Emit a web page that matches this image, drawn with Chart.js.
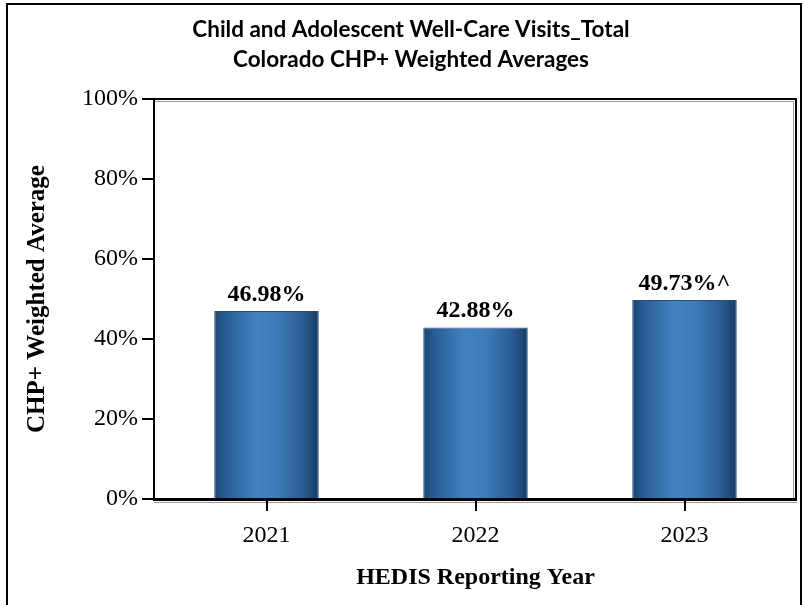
<!DOCTYPE html>
<html>
<head>
<meta charset="utf-8">
<script src="https://cdn.jsdelivr.net/npm/chart.js@4"></script>
<style>
  html, body { margin:0; padding:0; background:#fff; }
  #wrap { width:803px; height:605px; }
</style>
</head>
<body>
<div id="wrap"><canvas id="chart" width="803" height="605"></canvas></div>
<script>
const titleLines = ['Child and Adolescent Well-Care Visits_Total', 'Colorado CHP+ Weighted Averages'];
const years = ['2021', '2022', '2023'];
const rates = [46.98, 42.88, 49.73];
const labelMarks = ['', '', '^'];
const yTicks = [0, 20, 40, 60, 80, 100];

const serif = "'Liberation Serif', 'Times New Roman', serif";

function barGradient(ctx){
  const chart = ctx.chart;
  if (!chart.chartArea) return '#3a75b0';
  const xs = chart.scales.x;
  const cx = xs.getPixelForValue(ctx.dataIndex);
  const w = (xs.width / years.length) * 0.5;
  const g = chart.ctx.createLinearGradient(cx - w/2, 0, cx + w/2, 0);
  g.addColorStop(0, '#1b4470');
  g.addColorStop(0.12, '#2a5e96');
  g.addColorStop(0.4, '#4283c0');
  g.addColorStop(0.6, '#3e7cb8');
  g.addColorStop(0.85, '#2a5c92');
  g.addColorStop(1, '#163b63');
  return g;
}

// title, box round the plot, axis ticks, outer border and value labels
const framePlugin = {
  id: 'frame',
  afterDatasetsDraw(chart){
    const c = chart.ctx;
    const ys = chart.scales.y, xs = chart.scales.x;
    const L = 154, R = 796;
    const T = ys.getPixelForValue(100), B = ys.getPixelForValue(0);
    c.save();
    // title (centred over the box, not the canvas)
    c.fillStyle = '#000';
    c.font = 'bold 22.5px Lato, Carlito, sans-serif';
    c.textAlign = 'center'; c.textBaseline = 'middle';
    titleLines.forEach((t, i)=> c.fillText(t, 411, 30 + i*30));
    // inner gray shadow
    c.strokeStyle = '#9a9a9a'; c.lineWidth = 1;
    c.beginPath();
    c.moveTo(L+1, T+2.5); c.lineTo(R-2.5, T+2.5); c.lineTo(R-2.5, B);
    c.stroke();
    c.beginPath(); c.moveTo(L, B+3.5); c.lineTo(R+1, B+3.5); c.stroke();
    c.strokeStyle = '#000'; c.lineWidth = 2;
    c.beginPath();
    c.moveTo(L, B); c.lineTo(L, T); c.lineTo(R, T); c.lineTo(R, B+2);
    c.stroke();
    c.lineWidth = 3;
    c.beginPath(); c.moveTo(L-1, B+0.5); c.lineTo(R+1, B+0.5); c.stroke();
    c.lineWidth = 2;
    yTicks.forEach(v=>{
      const y = Math.round(ys.getPixelForValue(v));
      c.beginPath(); c.moveTo(142, y); c.lineTo(L, y); c.stroke();
    });
    years.forEach((_, i)=>{
      const x = Math.round(xs.getPixelForValue(i));
      c.beginPath(); c.moveTo(x, B); c.lineTo(x, B+12); c.stroke();
    });
    // outer border
    c.beginPath();
    c.moveTo(7, 605); c.lineTo(7, 4); c.lineTo(801, 4); c.lineTo(801, 605);
    c.stroke();
    // value labels
    c.font = 'bold 24px ' + serif;
    c.textAlign = 'center'; c.textBaseline = 'alphabetic';
    rates.forEach((v, i)=>{
      const x = xs.getPixelForValue(i);
      const y = ys.getPixelForValue(v);
      c.fillText(v.toFixed(2) + '%' + labelMarks[i], x, y - 10);
    });
    c.restore();
  }
};

new Chart(document.getElementById('chart'), {
  type: 'bar',
  data: {
    labels: years,
    datasets: [{
      data: rates,
      backgroundColor: barGradient,
      borderColor: '#244d78',
      borderWidth: 1,
      categoryPercentage: 0.5,
      barPercentage: 1
    }]
  },
  options: {
    responsive: false,
    animation: false,
    layout: { padding: { left: 0, right: 14, top: 99, bottom: 0 } },
    plugins: {
      legend: { display: false },
      tooltip: { enabled: false },
      title: { display: false }
    },
    scales: {
      x: {
        grid: { display: false, drawTicks: false },
        border: { display: false },
        ticks: { color: '#000', font: { family: serif, size: 24 }, padding: 22 },
        title: {
          display: true, text: 'HEDIS Reporting Year', color: '#000',
          font: { family: serif, size: 24, weight: 'bold', lineHeight: 1.2 },
          padding: { top: 0, bottom: 13 }
        },
        afterFit(s){ s.height = 106; }
      },
      y: {
        min: 0, max: 100,
        afterBuildTicks(s){ s.ticks = yTicks.map(v=>({ value: v })); },
        grid: { display: false, drawTicks: false },
        border: { display: false },
        ticks: { color: '#000', font: { family: serif, size: 24 }, padding: 24,
                 callback: v => v + '%' },
        title: {
          display: true, text: 'CHP+ Weighted Average', color: '#000',
          font: { family: serif, size: 25, weight: 'bold', lineHeight: 1.2 },
          padding: { top: 23, bottom: 0 }
        },
        afterFit(s){ s.width = 162; }
      }
    }
  },
  plugins: [framePlugin]
});
</script>
</body>
</html>
